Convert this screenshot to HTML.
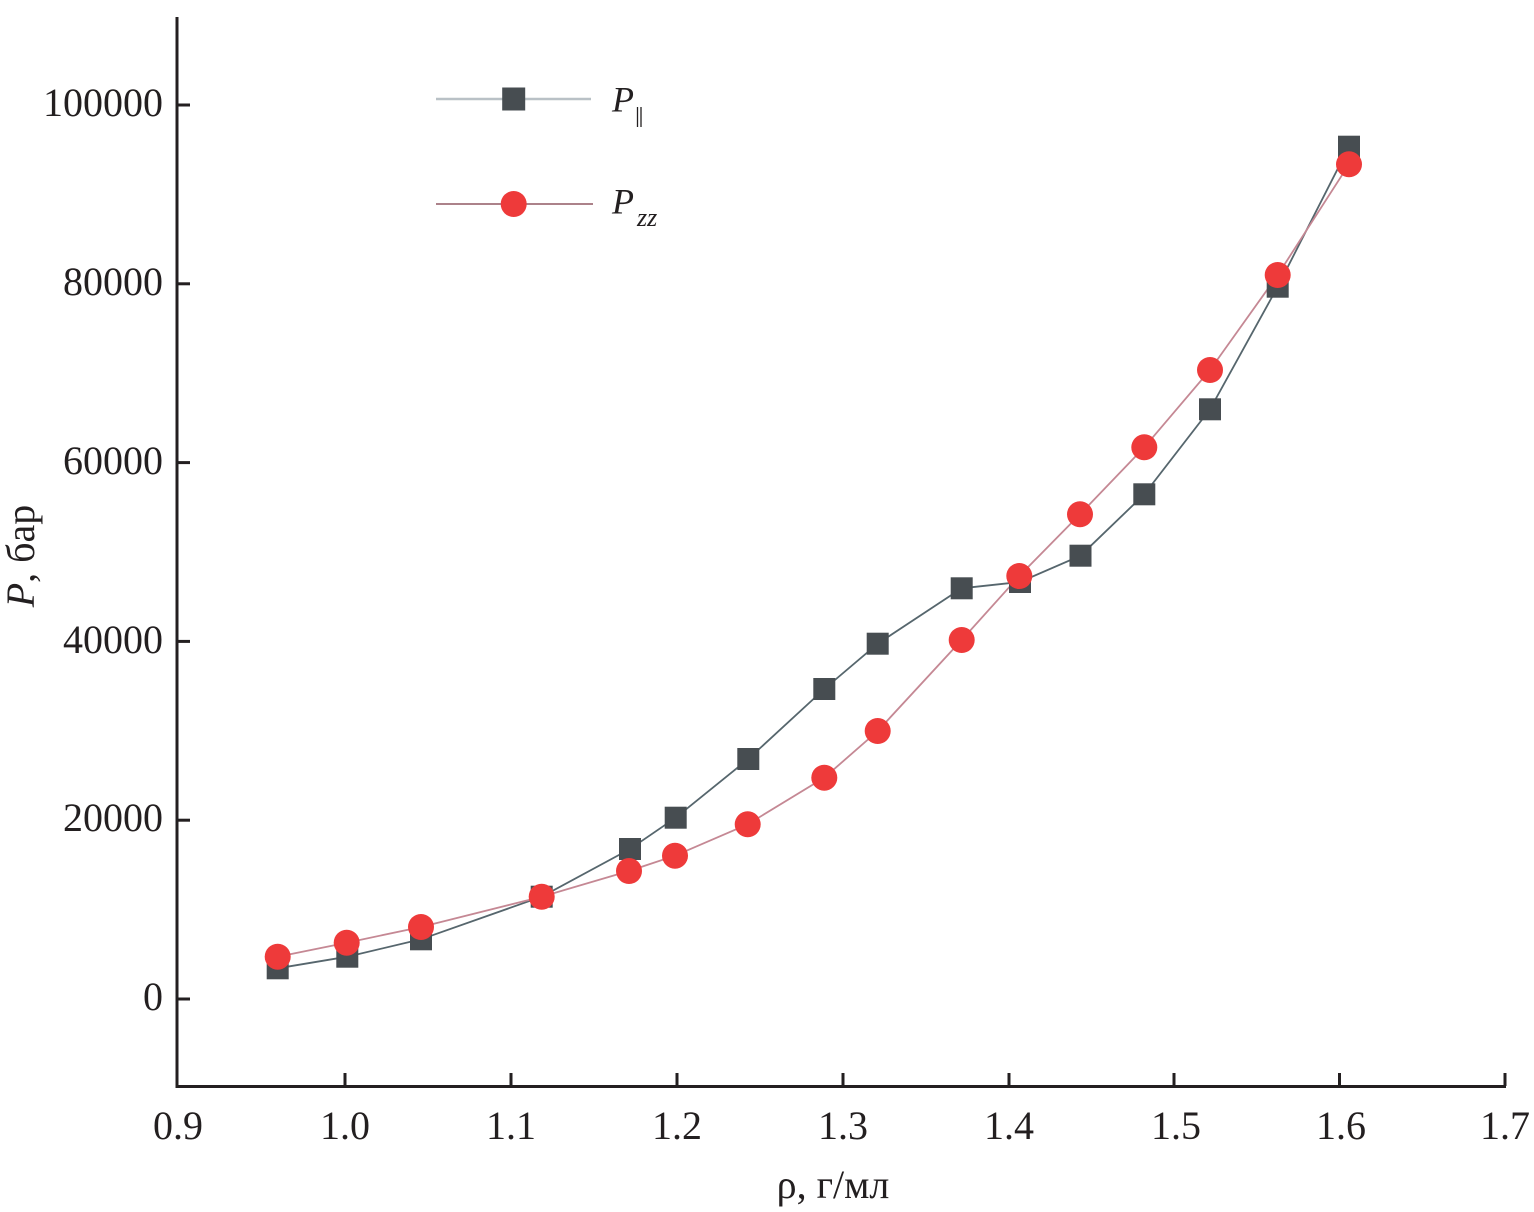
<!DOCTYPE html>
<html><head><meta charset="utf-8"><style>
html,body{margin:0;padding:0;background:#fff;}
svg{display:block;}
text{font-family:"Liberation Serif","DejaVu Serif",serif;fill:#231f20;}
</style></head><body>
<svg width="1534" height="1212" viewBox="0 0 1534 1212" xmlns="http://www.w3.org/2000/svg">
<!-- axes -->
<g stroke="#231f20" stroke-width="3" fill="none">
<line x1="177" y1="17" x2="177" y2="1087.5"/>
<line x1="175.5" y1="1086.5" x2="1506" y2="1086.5"/>
<line x1="177" y1="105" x2="190" y2="105"/>
<line x1="177" y1="283.8" x2="190" y2="283.8"/>
<line x1="177" y1="462.6" x2="190" y2="462.6"/>
<line x1="177" y1="641.4" x2="190" y2="641.4"/>
<line x1="177" y1="820.2" x2="190" y2="820.2"/>
<line x1="177" y1="999" x2="190" y2="999"/>
<line x1="345" y1="1086" x2="345" y2="1073"/>
<line x1="511" y1="1086" x2="511" y2="1073"/>
<line x1="677" y1="1086" x2="677" y2="1073"/>
<line x1="843" y1="1086" x2="843" y2="1073"/>
<line x1="1009" y1="1086" x2="1009" y2="1073"/>
<line x1="1174" y1="1086" x2="1174" y2="1073"/>
<line x1="1339.5" y1="1086" x2="1339.5" y2="1073"/>
<line x1="1505" y1="1086" x2="1505" y2="1073"/>
</g>
<!-- y tick labels -->
<g font-size="40" text-anchor="end">
<text x="163" y="116">100000</text>
<text x="163" y="295">80000</text>
<text x="163" y="474">60000</text>
<text x="163" y="653">40000</text>
<text x="163" y="831">20000</text>
<text x="163" y="1010">0</text>
</g>
<!-- x tick labels -->
<g font-size="40" text-anchor="middle">
<text x="178" y="1139">0.9</text>
<text x="345" y="1139">1.0</text>
<text x="511" y="1139">1.1</text>
<text x="677" y="1139">1.2</text>
<text x="843" y="1139">1.3</text>
<text x="1009" y="1139">1.4</text>
<text x="1176" y="1139">1.5</text>
<text x="1341" y="1139">1.6</text>
<text x="1505" y="1139">1.7</text>
</g>
<!-- axis titles -->
<text x="833" y="1198" font-size="40" text-anchor="middle">ρ, г/мл</text>
<text transform="translate(34,556) rotate(-90)" font-size="40" text-anchor="middle"><tspan font-style="italic">P</tspan>, бар</text>
<!-- series lines -->
<polyline fill="none" stroke="#56666d" stroke-width="1.8" points="277.7,968.3 347.3,956.7 421,939.3 541.7,896.7 630,849 675.7,817.7 748.3,759 824.3,689 877.7,643.7 961.7,588.3 1020,582 1080.5,555.7 1144.3,494.3 1210,409.3 1277.7,286.7 1349,146.7"/>
<polyline fill="none" stroke="#c58894" stroke-width="1.8" points="277.7,956.7 346.7,942.7 421,927 541.7,896.7 629,871 675,855.7 747.7,824.3 824.3,777.7 877.7,731 961.7,640 1019.3,576 1080,514.3 1144.3,447.3 1210,370 1277.7,275 1349,164.3"/>
<!-- squares -->
<g fill="#474d51">
<rect x="266.7" y="957.3" width="22" height="22"/>
<rect x="336.3" y="945.7" width="22" height="22"/>
<rect x="410" y="928.3" width="22" height="22"/>
<rect x="530.7" y="885.7" width="22" height="22"/>
<rect x="619" y="838" width="22" height="22"/>
<rect x="664.7" y="806.7" width="22" height="22"/>
<rect x="737.3" y="748" width="22" height="22"/>
<rect x="813.3" y="678" width="22" height="22"/>
<rect x="866.7" y="632.7" width="22" height="22"/>
<rect x="950.7" y="577.3" width="22" height="22"/>
<rect x="1009" y="571" width="22" height="22"/>
<rect x="1069.5" y="544.7" width="22" height="22"/>
<rect x="1133.3" y="483.3" width="22" height="22"/>
<rect x="1199" y="398.3" width="22" height="22"/>
<rect x="1266.7" y="275.7" width="22" height="22"/>
<rect x="1338" y="135.7" width="22" height="22"/>
</g>
<!-- circles -->
<g fill="#ee3a3a">
<circle cx="277.7" cy="956.7" r="13"/>
<circle cx="346.7" cy="942.7" r="13"/>
<circle cx="421" cy="927" r="13"/>
<circle cx="541.7" cy="896.7" r="13"/>
<circle cx="629" cy="871" r="13"/>
<circle cx="675" cy="855.7" r="13"/>
<circle cx="747.7" cy="824.3" r="13"/>
<circle cx="824.3" cy="777.7" r="13"/>
<circle cx="877.7" cy="731" r="13"/>
<circle cx="961.7" cy="640" r="13"/>
<circle cx="1019.3" cy="576" r="13"/>
<circle cx="1080" cy="514.3" r="13"/>
<circle cx="1144.3" cy="447.3" r="13"/>
<circle cx="1210" cy="370" r="13"/>
<circle cx="1277.7" cy="275" r="13"/>
<circle cx="1349" cy="164.3" r="13"/>
</g>
<!-- legend -->
<line x1="436" y1="99" x2="591" y2="99" stroke="#b9c1c6" stroke-width="2.5"/>
<rect x="502.2" y="87.5" width="23" height="23" fill="#474d51"/>
<line x1="436" y1="204" x2="593" y2="204" stroke="#a0707a" stroke-width="1.8"/>
<circle cx="513.7" cy="204" r="13" fill="#ee3a3a"/>
<text x="612" y="111.7" font-size="36" font-style="italic">P</text>
<line x1="637.5" y1="107" x2="637.5" y2="127" stroke="#231f20" stroke-width="1.3"/>
<line x1="641" y1="107" x2="641" y2="127" stroke="#231f20" stroke-width="1.3"/>
<text x="612" y="213.5" font-size="36" font-style="italic">P</text>
<text x="637" y="226" font-size="26" font-style="italic">zz</text>
</svg>
</body></html>
